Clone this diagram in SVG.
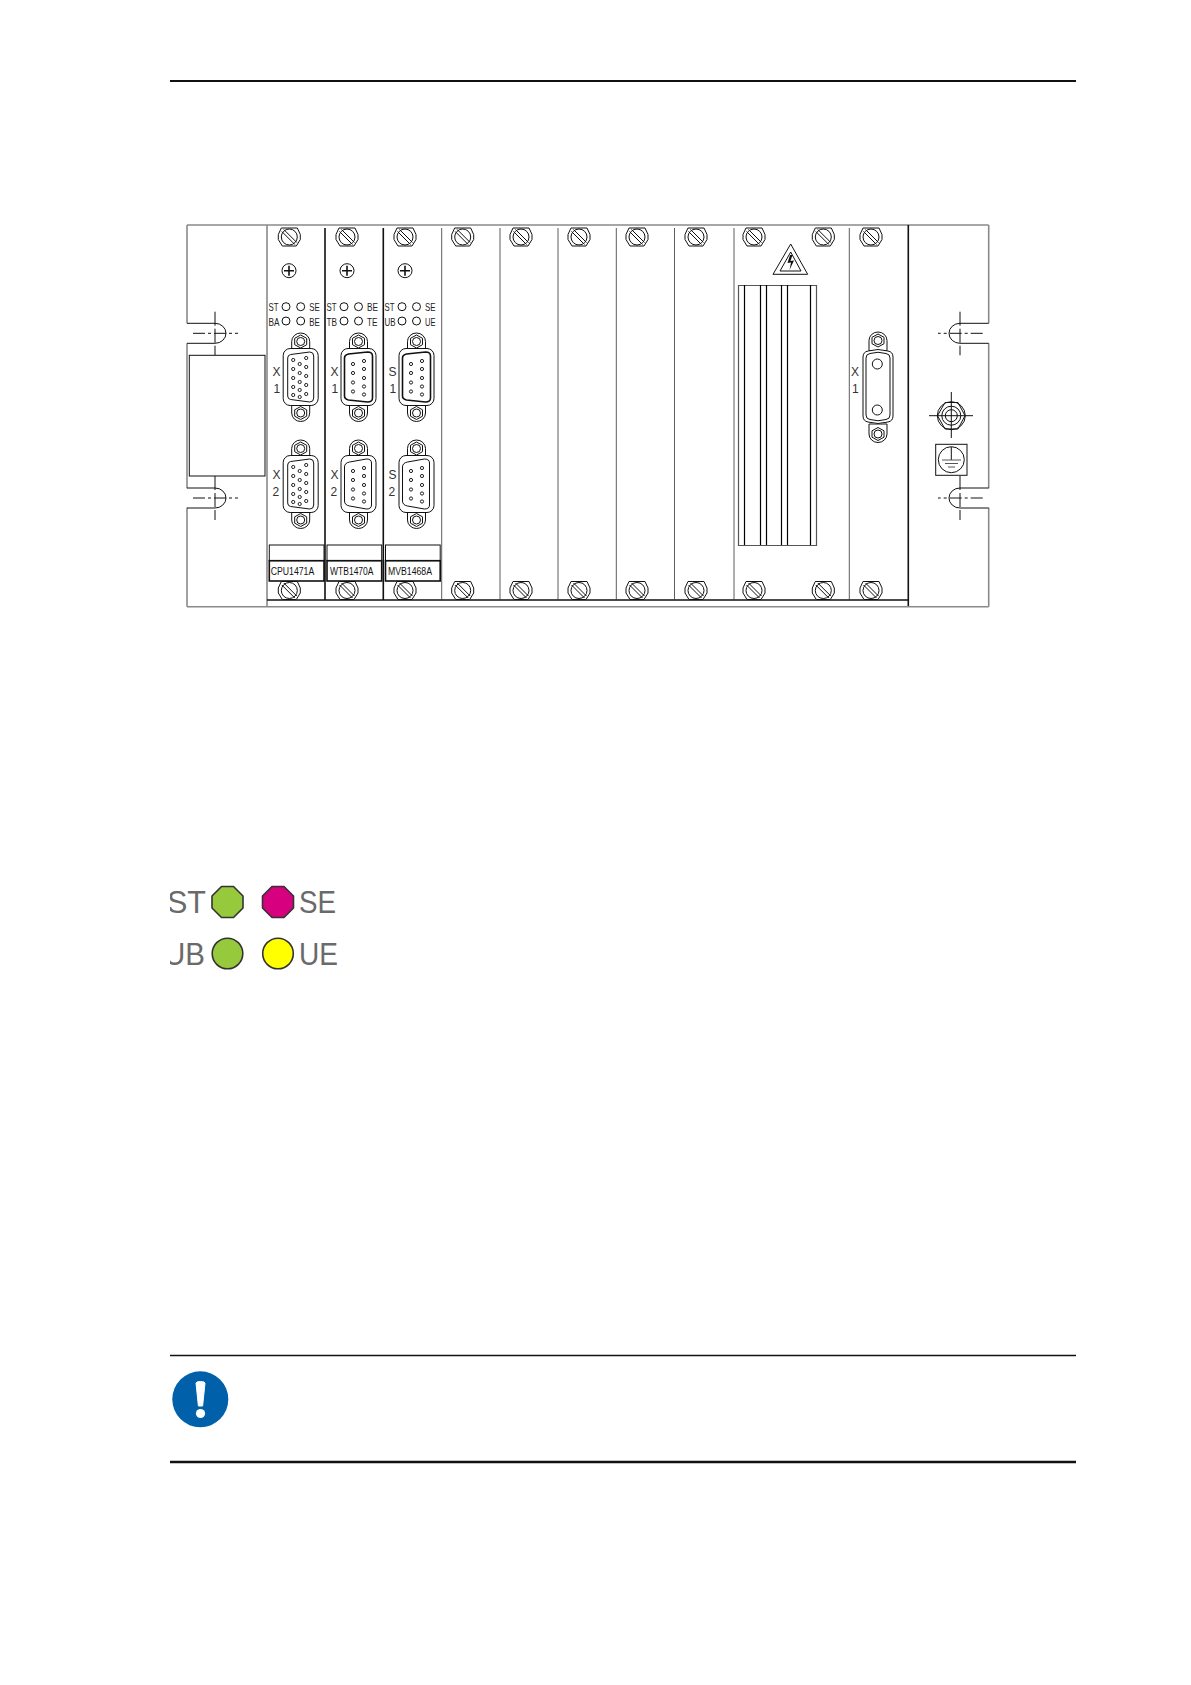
<svg xmlns="http://www.w3.org/2000/svg" xmlns:xlink="http://www.w3.org/1999/xlink" width="1191" height="1685" viewBox="0 0 1191 1685">
<style>
.k{fill:none;stroke:#111;stroke-width:1}
.w{fill:#fff;stroke:#111;stroke-width:1}
.g{fill:none;stroke:#8a8a8a;stroke-width:1.6}
.d{fill:none;stroke:#111;stroke-width:1.6}
.r{fill:none;stroke:#000;stroke-width:1.2}
.t{fill:none;stroke:#333;stroke-width:.8}
.c{fill:none;stroke:#111;stroke-width:1;stroke-dasharray:12 3 3 3}
.p{fill:#fff;stroke:#222;stroke-width:1}
text{font-family:"Liberation Sans",Arial,sans-serif;fill:#222}
.s{font-size:10.5px}
.x{font-size:12px;fill:#333}
.n{font-size:10px;fill:#111}
.l{font-size:32px;fill:#6a6a6a;font-weight:400}
</style>
<defs>
<g id="screw">
<path class="w" d="M-7,9 H7 L11,2.5 V-2.5 L8,-9 H-8 L-11,-2.5 V2.5 Z"/>
<circle class="k" r="8"/>
<path class="k" d="M-5.5,-7.5 L7.5,5.5 M-7.5,-5.5 L5.5,7.5"/>
</g>
<g id="plus"><circle class="k" r="7"/><path class="d" d="M-5,0 H5 M0,-5 V5"/></g>
<g id="ear">
<path class="w" d="M-9,10 V0 A9,8.5 0 0 1 9,0 V10 Z"/>
<path class="k" d="M0,-6.5 L6,-3.2 V3.2 L0,6.5 L-6,3.2 V-3.2 Z"/>
<circle class="k" r="4"/>
</g>
<g id="body">
<use xlink:href="#ear" y="-35.5"/>
<use xlink:href="#ear" y="-36" transform="rotate(180)"/>
<rect class="w" x="-17.5" y="-28.5" width="35" height="57" rx="7"/>
</g>
<g id="hd15">
<use xlink:href="#body"/>
<path class="k" d="M-13,-19 Q-13,-22 -10,-22.5 L9,-25 Q13,-25 13,-21 V21 Q13,25 9,25 L-10,22.5 Q-13,22 -13,19 Z"/>
<g class="p">
<circle cx="-7.5" cy="-17" r="1.6"/><circle cx="-7.5" cy="-8" r="1.6"/><circle cx="-7.5" cy="1" r="1.6"/><circle cx="-7.5" cy="10" r="1.6"/><circle cx="-7.5" cy="18" r="1.6"/>
<circle cx="-1" cy="-13" r="1.6"/><circle cx="-1" cy="-4" r="1.6"/><circle cx="-1" cy="5" r="1.6"/><circle cx="-1" cy="13" r="1.6"/><circle cx="-1" cy="20" r="1.6"/>
<circle cx="5.5" cy="-19" r="1.6"/><circle cx="5.5" cy="-10" r="1.6"/><circle cx="5.5" cy="-1" r="1.6"/><circle cx="5.5" cy="8" r="1.6"/><circle cx="5.5" cy="17" r="1.6"/>
</g>
</g>
<g id="db9pins" class="p">
<circle cx="-5.5" cy="-13" r="1.6"/><circle cx="-5.5" cy="-4" r="1.6"/><circle cx="-5.5" cy="5.5" r="1.6"/><circle cx="-5.5" cy="14.5" r="1.6"/>
<circle cx="5.5" cy="-16" r="1.6"/><circle cx="5.5" cy="-8" r="1.6"/><circle cx="5.5" cy="1" r="1.6"/><circle cx="5.5" cy="9.5" r="1.6"/><circle cx="5.5" cy="17.5" r="1.6"/>
</g>
<g id="db9a">
<use xlink:href="#body"/>
<path class="d" d="M-14,-19 Q-14,-22 -10,-23 L9,-25 Q14,-25 14,-21 V21 Q14,25 9,25 L-10,23 Q-14,22 -14,19 Z"/>
<use xlink:href="#db9pins"/>
</g>
<g id="db9b">
<use xlink:href="#body"/>
<path class="k" d="M-14,-17 Q-14,-21 -9,-22 L8,-25 Q13,-25 13,-21 V21 Q13,25 8,25 L-9,22 Q-14,21 -14,17 Z"/>
<use xlink:href="#db9pins"/>
</g>
<g id="notchL"><path class="k" d="M0,-10 H28 A11,10 0 0 1 28,10 H0"/></g>
<clipPath id="legendClip"><rect x="170" y="870" width="200" height="110"/></clipPath>
</defs>

<rect width="1191" height="1685" fill="#fff"/>

<g id="page-rules">
<path d="M170,81 H1076" stroke="#111" stroke-width="2.2" fill="none"/>
<path d="M170,1355.5 H1076" stroke="#111" stroke-width="1.3" fill="none"/>
<path d="M170,1462 H1076" stroke="#111" stroke-width="2.4" fill="none"/>
</g>

<g id="chassis">
<path class="g" d="M267,225 H908 M187,225 H267 M908,225 H988.7 M187,225 V323.3 M187,343.3 V488.3 M187,507.7 V606.7 M988.7,225 V323.3 M988.7,343.3 V488.3 M988.7,507.7 V606.7 M187,606.7 H988.7 M267,225 V606.7"/>
<path class="d" d="M267,600 H908 M908.3,225 V606"/>
<path class="t" d="M441.7,228 V600 M500,228 V600 M558,228 V600 M616.3,228 V600 M674.5,228 V600 M734,228 V600 M849.3,228 V600"/>
<path class="d" d="M325,228 V600 M383.3,228 V600"/>
</g>

<g id="notches">
<use xlink:href="#notchL" x="187" y="333.3"/>
<use xlink:href="#notchL" x="187" y="498"/>
<path class="k" d="M988.7,323.3 H960 A11,10 0 0 0 960,343.3 H988.7 M988.7,488 H960 A11,10 0 0 0 960,508 H988.7"/>
<path class="c" d="M193,333.3 H238 M193,498 H238 M982.7,333.3 H938 M982.7,498 H938"/>
<path class="k" stroke-dasharray="14 3" d="M215,311.7 V355.3 M215,476 V520 M960,311.7 V355.3 M960,476 V520"/>
</g>

<g id="blank-panel"><rect class="w" x="189.3" y="355.3" width="75.7" height="120.7"/></g>

<g id="screws">
<use xlink:href="#screw" x="289.3" y="237"/><use xlink:href="#screw" x="347" y="237"/><use xlink:href="#screw" x="405" y="237"/><use xlink:href="#screw" x="462.7" y="237"/><use xlink:href="#screw" x="521" y="237"/><use xlink:href="#screw" x="579" y="237"/><use xlink:href="#screw" x="637" y="237"/><use xlink:href="#screw" x="696" y="237"/><use xlink:href="#screw" x="754" y="237"/><use xlink:href="#screw" x="823.3" y="237"/><use xlink:href="#screw" x="871" y="237"/>
<use xlink:href="#screw" x="289.3" y="590.5"/><use xlink:href="#screw" x="347" y="590.5"/><use xlink:href="#screw" x="405" y="590.5"/><use xlink:href="#screw" x="462.7" y="590.5"/><use xlink:href="#screw" x="521" y="590.5"/><use xlink:href="#screw" x="579" y="590.5"/><use xlink:href="#screw" x="637" y="590.5"/><use xlink:href="#screw" x="696" y="590.5"/><use xlink:href="#screw" x="754" y="590.5"/><use xlink:href="#screw" x="823.3" y="590.5"/><use xlink:href="#screw" x="871" y="590.5"/>
</g>

<g id="module-cpu">
<use xlink:href="#plus" x="289" y="270.7"/>
<circle class="k" cx="286" cy="306.7" r="4"/><circle class="k" cx="300.7" cy="306.7" r="4"/><circle class="k" cx="286" cy="321" r="4"/><circle class="k" cx="300.7" cy="321" r="4"/>
<text class="s" x="268.5" y="311" textLength="10" lengthAdjust="spacingAndGlyphs">ST</text>
<text class="s" x="309.3" y="311" textLength="10.5" lengthAdjust="spacingAndGlyphs">SE</text>
<text class="s" x="268.5" y="325.5" textLength="11" lengthAdjust="spacingAndGlyphs">BA</text>
<text class="s" x="309.3" y="325.5" textLength="10.5" lengthAdjust="spacingAndGlyphs">BE</text>
<use xlink:href="#hd15" x="300.7" y="377"/><use xlink:href="#hd15" x="300.7" y="484"/>
<text class="x" x="272.5" y="376">X</text><text class="x" x="273.5" y="393">1</text>
<text class="x" x="272.5" y="478.5">X</text><text class="x" x="272.5" y="496">2</text>
<rect class="k" x="269.3" y="545" width="54.7" height="15.7" stroke="#777"/><rect class="d" x="269.3" y="560.7" width="54.7" height="20.3"/>
<text class="n" x="270.7" y="575" textLength="43.5" lengthAdjust="spacingAndGlyphs">CPU1471A</text>
</g>

<g id="module-wtb">
<use xlink:href="#plus" x="347" y="270.7"/>
<circle class="k" cx="344" cy="306.7" r="4"/><circle class="k" cx="358.5" cy="306.7" r="4"/><circle class="k" cx="344" cy="321" r="4"/><circle class="k" cx="358.5" cy="321" r="4"/>
<text class="s" x="326.5" y="311" textLength="10" lengthAdjust="spacingAndGlyphs">ST</text>
<text class="s" x="367" y="311" textLength="11" lengthAdjust="spacingAndGlyphs">BE</text>
<text class="s" x="326.5" y="325.5" textLength="10.5" lengthAdjust="spacingAndGlyphs">TB</text>
<text class="s" x="367" y="325.5" textLength="10.5" lengthAdjust="spacingAndGlyphs">TE</text>
<use xlink:href="#db9a" x="358.5" y="377"/><use xlink:href="#db9b" x="358.5" y="484"/>
<text class="x" x="330.5" y="376">X</text><text class="x" x="331.5" y="393">1</text>
<text class="x" x="330.5" y="478.5">X</text><text class="x" x="330.5" y="496">2</text>
<rect class="k" x="327" y="545" width="54.7" height="15.7"/><rect class="d" x="327" y="560.7" width="54.7" height="20.3"/>
<text class="n" x="330" y="575" textLength="43.5" lengthAdjust="spacingAndGlyphs">WTB1470A</text>
</g>

<g id="module-mvb">
<use xlink:href="#plus" x="405" y="270.7"/>
<circle class="k" cx="402" cy="306.7" r="4"/><circle class="k" cx="416.5" cy="306.7" r="4"/><circle class="k" cx="402" cy="321" r="4"/><circle class="k" cx="416.5" cy="321" r="4"/>
<text class="s" x="384.5" y="311" textLength="10" lengthAdjust="spacingAndGlyphs">ST</text>
<text class="s" x="425" y="311" textLength="10.5" lengthAdjust="spacingAndGlyphs">SE</text>
<text class="s" x="384.5" y="325.5" textLength="11" lengthAdjust="spacingAndGlyphs">UB</text>
<text class="s" x="425" y="325.5" textLength="10.5" lengthAdjust="spacingAndGlyphs">UE</text>
<use xlink:href="#db9a" x="416.5" y="377"/><use xlink:href="#db9b" x="416.5" y="484"/>
<text class="x" x="388.5" y="376">S</text><text class="x" x="389.5" y="393">1</text>
<text class="x" x="388.5" y="478.5">S</text><text class="x" x="388.5" y="496">2</text>
<rect class="k" x="385.5" y="545" width="54.7" height="15.7"/><rect class="d" x="385.5" y="560.7" width="54.7" height="20.3"/>
<text class="n" x="388" y="575" textLength="44" lengthAdjust="spacingAndGlyphs">MVB1468A</text>
</g>

<g id="power-module">
<path class="k" d="M790.7,244 L807.7,274.3 H773 Z M790.7,252 L801,271 H780 Z"/>
<path d="M790,255 L787.5,263 L791,262.5 L789.5,270 L794,260.5 L790.5,261 L792.5,255 Z" fill="#111"/>
<path d="M738.5,285.5 H816.5 V545.5 H738.5 Z" fill="none" stroke="#555" stroke-width="1.2"/>
<path class="r" d="M744.5,285 V545 M760.5,285 V545 M766.5,285 V545 M781.5,285 V545 M787.5,285 V545 M810.5,285 V545"/>
</g>

<g id="connector-x1">
<use xlink:href="#ear" x="878" y="340.5"/>
<use xlink:href="#ear" y="-434" x="-878" transform="rotate(180)"/>
<path class="w" d="M863,357 Q863,352 868,351 Q878,348 888,351 Q893,352 893,357 V416 Q893,421 888,422 Q878,425 868,422 Q863,421 863,416 Z"/>
<path class="k" d="M866,358 Q866,354 870,353.5 Q878,351 886,353.5 Q890,354 890,358 V415 Q890,419 886,419.5 Q878,422 870,419.5 Q866,419 866,415 Z"/>
<circle class="k" cx="877.3" cy="364" r="5"/><circle class="k" cx="877.3" cy="410" r="5"/>
<text class="x" x="851" y="376">X</text><text class="x" x="852" y="393">1</text>
</g>

<g id="ground">
<circle class="k" cx="951.3" cy="415.7" r="14"/>
<path class="k" d="M945,402.5 H958 L965,415.7 L958,429 H945 L937.5,415.7 Z"/>
<circle class="k" cx="951.3" cy="415.7" r="9.5"/><circle class="k" cx="951.3" cy="415.7" r="6"/>
<path class="k" d="M929,415.7 H973 M951.3,392 V438"/>
<rect class="k" x="935.7" y="444.3" width="31.3" height="31" stroke-width="1.3"/>
<circle class="k" cx="951.3" cy="459.7" r="13"/>
<path class="k" d="M951.3,447 V460"/>
<path d="M942,460 H961 M945,463.5 H958 M948,467 H955" stroke="#555" fill="none"/>
</g>

<g id="led-legend">
<g clip-path="url(#legendClip)">
<text class="l" x="167" y="913" textLength="39" lengthAdjust="spacingAndGlyphs">ST</text>
<text class="l" x="299" y="913" textLength="37" lengthAdjust="spacingAndGlyphs">SE</text>
<text class="l" x="164" y="965" textLength="41" lengthAdjust="spacingAndGlyphs">UB</text>
<text class="l" x="299" y="965" textLength="39" lengthAdjust="spacingAndGlyphs">UE</text>
</g>
<path d="M221.5,886.5 H233.5 L243,896 V908 L233.5,917.5 H221.5 L212,908 V896 Z" fill="#97c93c" stroke="#333" stroke-width="1.6" stroke-linejoin="round"/>
<path d="M272,886.5 H284 L293.5,896 V908 L284,917.5 H272 L262.5,908 V896 Z" fill="#d7007f" stroke="#333" stroke-width="1.6" stroke-linejoin="round"/>
<circle cx="227.5" cy="953.5" r="15.3" fill="#97c93c" stroke="#333" stroke-width="1.6"/>
<circle cx="278" cy="953.5" r="15.3" fill="#ffff00" stroke="#333" stroke-width="1.6"/>
</g>

<g id="notice-icon">
<circle cx="200.3" cy="1399.3" r="28" fill="#0060a9"/>
<path d="M196,1383 Q196,1381.5 200.5,1381.5 Q205,1381.5 205,1383 L202.6,1406 H198.4 Z" fill="#fff" stroke="#fff" stroke-linejoin="round"/>
<circle cx="200.5" cy="1413.5" r="4.6" fill="#fff"/>
</g>
</svg>
